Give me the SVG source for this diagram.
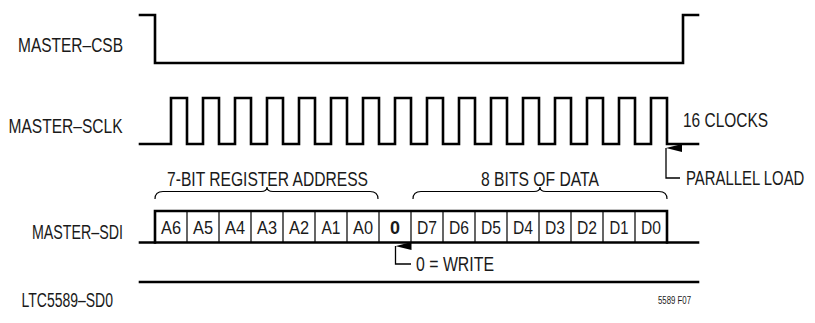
<svg xmlns="http://www.w3.org/2000/svg" width="815" height="323" viewBox="0 0 815 323">
<defs>
<style>
.t{font-family:"Liberation Sans Narrow","Liberation Sans",Arial,sans-serif;font-size:19.5px;fill:#1a1a1a}
.c{font-family:"Liberation Sans Narrow","Liberation Sans",Arial,sans-serif;font-size:19px;fill:#1a1a1a;text-anchor:middle}
.w{fill:none;stroke:#000;stroke-width:2.6;stroke-linejoin:miter;stroke-linecap:square}
.d{fill:none;stroke:#000;stroke-width:1.2}
.b{fill:none;stroke:#000;stroke-width:1.2}
.a{fill:none;stroke:#000;stroke-width:1.3}
</style>
<marker id="ah" viewBox="0 0 8 16" refX="4" refY="0" markerWidth="8" markerHeight="16" markerUnits="userSpaceOnUse" orient="auto-start-reverse">
<path d="M0,16 L4,0 L8,16 Z" fill="#000"/>
</marker>
</defs>
<rect width="815" height="323" fill="#fff"/>
<g id="labels">
<text class="t" x="18" y="52" textLength="105" lengthAdjust="spacingAndGlyphs">MASTER–CSB</text>
<text class="t" x="8.5" y="133" textLength="114" lengthAdjust="spacingAndGlyphs">MASTER–SCLK</text>
<text class="t" x="32" y="239" textLength="91" lengthAdjust="spacingAndGlyphs">MASTER–SDI</text>
<text class="t" x="21.5" y="307" textLength="91.5" lengthAdjust="spacingAndGlyphs">LTC5589–SD0</text>
</g>
<g id="csb">
<path class="w" d="M140,15 H155 V63 H683 V15 H698"/>
</g>
<g id="sclk">
<path class="w" d="M140,144 H171 V98 H187 V144 H203 V98 H219 V144 H235 V98 H251 V144 H267 V98 H283 V144 H299 V98 H315 V144 H331 V98 H347 V144 H363 V98 H379 V144 H395 V98 H411 V144 H427 V98 H443 V144 H459 V98 H475 V144 H491 V98 H507 V144 H523 V98 H539 V144 H555 V98 H571 V144 H587 V98 H603 V144 H619 V98 H635 V144 H651 V98 H667 V144 H698"/>
<text class="t" x="683" y="127" textLength="85" lengthAdjust="spacingAndGlyphs">16 CLOCKS</text>
</g>
<g id="sdi">
<path class="d" d="M187,211 V242.5 M219,211 V242.5 M251,211 V242.5 M283,211 V242.5 M315,211 V242.5 M347,211 V242.5 M379,211 V242.5 M411,211 V242.5 M443,211 V242.5 M475,211 V242.5 M507,211 V242.5 M539,211 V242.5 M571,211 V242.5 M603,211 V242.5 M635,211 V242.5"/>
<path class="w" d="M155,242.5 V211 H667 V242.5"/>
<path class="w" d="M140,242.5 H698"/>
<text class="c" x="171" y="234" textLength="20" lengthAdjust="spacingAndGlyphs">A6</text>
<text class="c" x="203" y="234" textLength="20" lengthAdjust="spacingAndGlyphs">A5</text>
<text class="c" x="235" y="234" textLength="20" lengthAdjust="spacingAndGlyphs">A4</text>
<text class="c" x="267" y="234" textLength="20" lengthAdjust="spacingAndGlyphs">A3</text>
<text class="c" x="299" y="234" textLength="20" lengthAdjust="spacingAndGlyphs">A2</text>
<text class="c" x="331" y="234" textLength="19" lengthAdjust="spacingAndGlyphs">A1</text>
<text class="c" x="363" y="234" textLength="20" lengthAdjust="spacingAndGlyphs">A0</text>
<text class="c" x="395" y="234" font-weight="bold" textLength="10" lengthAdjust="spacingAndGlyphs">0</text>
<text class="c" x="427" y="234" textLength="20" lengthAdjust="spacingAndGlyphs">D7</text>
<text class="c" x="459" y="234" textLength="20" lengthAdjust="spacingAndGlyphs">D6</text>
<text class="c" x="491" y="234" textLength="20" lengthAdjust="spacingAndGlyphs">D5</text>
<text class="c" x="523" y="234" textLength="20" lengthAdjust="spacingAndGlyphs">D4</text>
<text class="c" x="555" y="234" textLength="20" lengthAdjust="spacingAndGlyphs">D3</text>
<text class="c" x="587" y="234" textLength="20" lengthAdjust="spacingAndGlyphs">D2</text>
<text class="c" x="619" y="234" textLength="19" lengthAdjust="spacingAndGlyphs">D1</text>
<text class="c" x="651" y="234" textLength="20" lengthAdjust="spacingAndGlyphs">D0</text>
</g>
<g id="address-brace">
<path class="b" d="M155,199 Q155,191.5 163,191.5 H261 Q267,191.5 267,187 Q267,191.5 273,191.5 H370 Q378,191.5 378,199"/>
<text class="t" x="167" y="186" textLength="201" lengthAdjust="spacingAndGlyphs">7-BIT REGISTER ADDRESS</text>
</g>
<g id="data-brace">
<path class="b" d="M413,199 Q413,191.5 421,191.5 H534 Q540,191.5 540,187 Q540,191.5 546,191.5 H659 Q667,191.5 667,199"/>
<text class="t" x="481" y="186" textLength="118" lengthAdjust="spacingAndGlyphs">8 BITS OF DATA</text>
</g>
<g id="sd0">
<path class="w" d="M140,282 H698"/>
</g>
<g id="connectors">
<path class="a" d="M680,178 H666 V148" marker-end="url(#ah)"/>
<path class="a" d="M411,264 H395.5 V246" marker-end="url(#ah)"/>
</g>
<g id="parallel-load">
<text transform="translate(686,185) scale(0.764,1)" x="0" y="0" font-family="Liberation Sans, Arial, sans-serif" font-size="19.5" fill="#1a1a1a">PARALLEL LOAD</text>
</g>
<g id="write">
<text class="t" x="416" y="271" textLength="78" lengthAdjust="spacingAndGlyphs">0 = WRITE</text>
</g>
<text x="658" y="304" font-family="Liberation Sans Narrow, Liberation Sans, Arial, sans-serif" font-size="11" fill="#1a1a1a" textLength="33" lengthAdjust="spacingAndGlyphs">5589 F07</text>
</svg>
